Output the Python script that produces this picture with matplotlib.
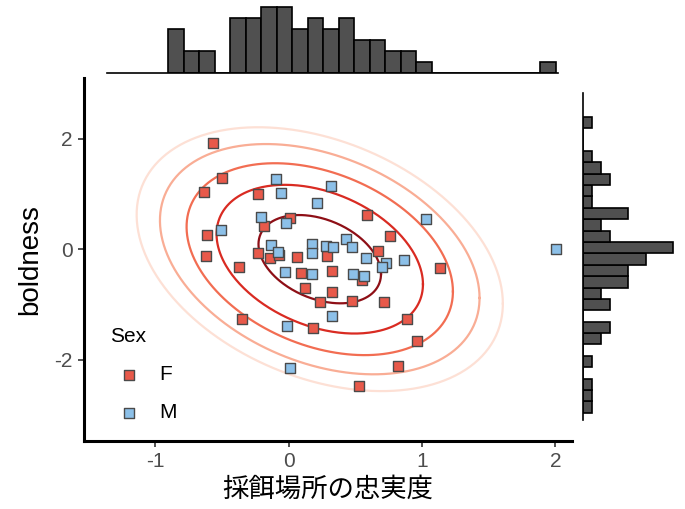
import numpy as np
import matplotlib.pyplot as plt

plt.rcParams['font.family'] = ['Liberation Sans', 'Noto Sans CJK JP', 'DejaVu Sans']
plt.rcParams['axes.unicode_minus'] = False

# points (x = 採餌場所の忠実度, y = boldness)
f_x = [-0.565, -0.498, -0.633, -0.228, 0.012, -0.185, -0.612, -0.620, -0.234, 0.060,
       0.585, 0.763, 0.672, 0.287, 1.134, 0.092, 0.327, 0.549, 0.122, 0.327,
       0.235, 0.475, 0.716, 0.885, 0.184, 0.964, 0.822, 0.529, -0.140, -0.370,
       -0.350, -0.070]
f_y = [1.913, 1.280, 1.026, 0.995, 0.561, 0.416, 0.253, -0.118, -0.067, -0.145,
       0.621, 0.235, -0.031, -0.121, -0.344, -0.440, -0.398, -0.561, -0.706, -0.773,
       -0.954, -0.941, -0.954, -1.258, -1.435, -1.660, -2.118, -2.480, -0.168, -0.317,
       -1.267, -0.100]
m_x = [-0.097, -0.058, 0.212, 0.315, -0.205, -0.019, -0.510, -0.136, -0.080, 0.175,
       0.177, 0.280, 0.334, 1.029, 0.430, 0.472, 0.583, 0.729, 0.868, 2.004,
       0.697, -0.025, 0.177, 0.484, 0.562, 0.327, -0.015, 0.013]
m_y = [1.272, 1.005, 0.833, 1.140, 0.579, 0.465, 0.344, 0.072, -0.049, 0.087,
       -0.067, 0.060, 0.031, 0.538, 0.177, 0.042, -0.163, -0.259, -0.208, 0.000,
       -0.331, -0.411, -0.456, -0.456, -0.480, -1.213, -1.390, -2.159]

# marginal histogram counts as drawn (top: left->right, right: bottom->top)
top_counts = [4, 2, 2, 0, 5, 5, 6, 6, 4, 5, 4, 5, 3, 3, 2, 2, 1, 0, 0, 0, 0, 0, 0, 0, 1]
top_start, top_width = -0.9026, 0.1162
right_counts = [1, 1, 1, 0, 1, 0, 2, 3, 0, 3, 2, 5, 5, 7, 10, 3, 2, 5, 1, 1, 3, 2, 1, 0, 0, 1]
right_start, right_width = -2.963, 0.206

# contour radii (mahalanobis) and colours, outer to inner
radii = [2.75, 2.4, 2.0, 1.55, 0.92]
ring_cols = ['#fde0d5', '#f9ad95', '#f26d52', '#d92b22', '#8e0f16']

W, H = 685, 509
fig = plt.figure(figsize=(W / 100, H / 100), dpi=100)

def box(l, t, r, b):
    return [l / W, 1 - b / H, (r - l) / W, (b - t) / H]

ax = fig.add_axes(box(84, 78, 572, 441))
ax_top = fig.add_axes(box(84, 0, 572, 73.3))
ax_right = fig.add_axes(box(583.3, 78, 685, 441))

xlim = (-1.535, 2.124)
ylim = (-3.475, 3.095)

# ellipses from the mean / covariance of all points
allx = np.array(f_x + m_x)
ally = np.array(f_y + m_y)
mu = np.array([allx.mean(), ally.mean()])
cov = np.cov(allx, ally)
L = np.linalg.cholesky(cov)
t = np.linspace(0, 2 * np.pi, 300)
circ = np.vstack([np.cos(t), np.sin(t)])
for r, c in zip(radii, ring_cols):
    e = mu[:, None] + r * (L @ circ)
    ax.plot(e[0], e[1], color=c, lw=1.6, zorder=1)

ax.scatter(f_x, f_y, marker='s', s=62, c='#e8594a', edgecolors='#4a4a4a',
           linewidths=1.0, zorder=3, label='F')
ax.scatter(m_x, m_y, marker='s', s=62, c='#8cc0e8', edgecolors='#4a4a4a',
           linewidths=1.0, zorder=3, label='M')

ax.set_xlim(xlim)
ax.set_ylim(ylim)
ax.set_xticks([-1, 0, 1, 2])
ax.set_yticks([-2, 0, 2])
for s in ['top', 'right']:
    ax.spines[s].set_visible(False)
for s in ['left', 'bottom']:
    ax.spines[s].set_linewidth(2.2)
ax.tick_params(length=4, width=1.2, color='#333333', labelsize=15,
               labelcolor='#4d4d4d', pad=4)
ax.set_xlabel('採餌場所の忠実度', fontsize=19, labelpad=4)
ax.set_ylabel('boldness', fontsize=20, labelpad=8)

leg = ax.legend(title='Sex', loc='upper left', bbox_to_anchor=(0.041, 0.332),
                frameon=False, fontsize=15, title_fontsize=15, alignment='left',
                handlelength=1.8, handletextpad=0.55, labelspacing=0.93,
                borderpad=0.3, borderaxespad=0)

# top marginal histogram
top_edges = top_start + top_width * np.arange(len(top_counts))
ax_top.bar(top_edges, top_counts, width=top_width, align='edge',
           color='#505050', edgecolor='black', linewidth=1.2)
ax_top.set_xlim(xlim)
ax_top.set_ylim(0, 73.3 / 11)
ax_top.axis('off')
ax_top.plot([-1.362, 2.019], [0, 0], color='black', lw=1.2, clip_on=False)

# right marginal histogram
right_edges = right_start + right_width * np.arange(len(right_counts))
ax_right.barh(right_edges, right_counts, height=right_width, align='edge',
              color='#505050', edgecolor='black', linewidth=1.2)
ax_right.set_ylim(ylim)
ax_right.set_xlim(0, 101.7 / 9)
ax_right.axis('off')
ax_right.plot([0, 0], [-3.095, 2.824], color='black', lw=1.2, clip_on=False)

fig.savefig('out.png', dpi=100)
